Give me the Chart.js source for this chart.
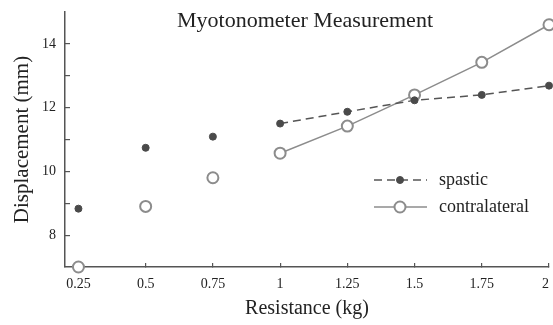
<!DOCTYPE html>
<html>
<head>
<meta charset="utf-8">
<title>Myotonometer Measurement</title>
<script src="https://cdn.jsdelivr.net/npm/chart.js@4.4.1/dist/chart.umd.min.js"></script>
<style>
  body { margin: 0; background: #fff; }
  #wrap { width: 553px; height: 325px; }
</style>
</head>
<body>
<div id="wrap"><canvas id="myoChart" width="553" height="325"></canvas></div>
<script>
// resistance (kg) on the x axis
const resistance = [0.25, 0.5, 0.75, 1, 1.25, 1.5, 1.75, 2];
// displacement (mm)
const spastic = [8.83, 10.74, 11.09, 11.5, 11.87, 12.23, 12.4, 12.69];
const contralateral = [7.0, 8.9, 9.8, 10.57, 11.42, 12.4, 13.42, 14.6];

const xTicks = [0.25, 0.5, 0.75, 1, 1.25, 1.5, 1.75, 2];
const yTicks = [8, 9, 10, 11, 12, 13, 14];
const yLabels = [8, 10, 12, 14];

const serif = "'Liberation Serif', 'Times New Roman', serif";
const axisColor = '#555';

// lines are only drawn from 1 kg upward
const hideEarly = ctx => (ctx.p0.parsed.x < 1 ? 'transparent' : undefined);

// title and legend sit inside the plot area, so draw them here
const overlayPlugin = {
  id: 'overlay',
  afterDraw(chart) {
    const ctx = chart.ctx;
    ctx.save();
    ctx.fillStyle = '#222';
    ctx.font = '22px ' + serif;
    ctx.textAlign = 'center';
    ctx.textBaseline = 'alphabetic';
    ctx.fillText('Myotonometer Measurement', 305, 27);

    const rows = [180, 207];
    chart.data.datasets.forEach((ds, i) => {
      const y = rows[i];
      ctx.strokeStyle = ds.borderColor;
      ctx.lineWidth = ds.borderWidth;
      ctx.setLineDash(ds.borderDash || []);
      ctx.beginPath();
      ctx.moveTo(374, y);
      ctx.lineTo(427, y);
      ctx.stroke();
      ctx.setLineDash([]);
      ctx.beginPath();
      ctx.arc(400, y, ds.pointRadius, 0, Math.PI * 2);
      ctx.fillStyle = ds.pointBackgroundColor;
      ctx.fill();
      ctx.lineWidth = ds.pointBorderWidth;
      ctx.strokeStyle = ds.pointBorderColor;
      ctx.stroke();
      ctx.fillStyle = '#222';
      ctx.font = '18px ' + serif;
      ctx.textAlign = 'left';
      ctx.textBaseline = 'middle';
      ctx.fillText(ds.label, 439, y);
    });
    ctx.restore();
  }
};

const config = {
  type: 'line',
  data: {
    datasets: [
      {
        label: 'spastic',
        data: resistance.map((x, i) => ({ x: x, y: spastic[i] })),
        borderColor: '#555',
        borderWidth: 1.5,
        borderDash: [8, 5],
        pointRadius: 3.5,
        pointBackgroundColor: '#4a4a4a',
        pointBorderColor: '#4a4a4a',
        pointBorderWidth: 1,
        segment: { borderColor: hideEarly },
        clip: false,
      },
      {
        label: 'contralateral',
        data: resistance.map((x, i) => ({ x: x, y: contralateral[i] })),
        borderColor: '#8c8c8c',
        borderWidth: 1.5,
        pointRadius: 5.5,
        pointBackgroundColor: '#fff',
        pointBorderColor: '#8c8c8c',
        pointBorderWidth: 2,
        segment: { borderColor: hideEarly },
        clip: false,
      },
    ],
  },
  options: {
    responsive: false,
    animation: false,
    layout: { autoPadding: false, padding: { left: 0, top: 12, right: 0, bottom: 4 } },
    plugins: {
      legend: { display: false },
      title: { display: false },
      tooltip: { enabled: false },
    },
    scales: {
      x: {
        type: 'linear',
        min: 0.2,
        max: 2,
        afterBuildTicks: s => { s.ticks = xTicks.map(v => ({ value: v })); },
        afterFit: s => {
          s.height = 54;
          s.paddingLeft = 0;
          s.paddingRight = 4;
        },
        border: { color: axisColor, width: 1.5 },
        grid: { drawOnChartArea: false, tickLength: -4, color: axisColor, lineWidth: 1.2 },
        ticks: {
          padding: 13,
          color: '#222',
          font: { family: serif, size: 14 },
          maxRotation: 0,
          // last label is pulled in from the edge
          callback: v => (v === 2 ? '2  ' : String(v)),
        },
        title: {
          display: true,
          text: 'Resistance (kg)',
          color: '#222',
          font: { family: serif, size: 20 },
          padding: { top: 0, bottom: 0 },
        },
      },
      y: {
        min: 7,
        max: 15,
        afterBuildTicks: s => { s.ticks = yTicks.map(v => ({ value: v })); },
        afterFit: s => {
          s.width = 65;
          s.paddingTop = 0;
          s.paddingBottom = 0;
        },
        border: { color: axisColor, width: 1.5 },
        grid: { drawOnChartArea: false, tickLength: -5, color: axisColor, lineWidth: 1.2 },
        ticks: {
          padding: 14,
          color: '#222',
          font: { family: serif, size: 14 },
          callback: v => (yLabels.includes(v) ? String(v) : ''),
        },
        title: {
          display: true,
          text: 'Displacement (mm)',
          color: '#222',
          font: { family: serif, size: 21 },
          padding: { top: 10, bottom: 0 },
        },
      },
    },
  },
  plugins: [overlayPlugin],
};

const ctx = document.getElementById('myoChart').getContext('2d');
new Chart(ctx, config);
</script>
</body>
</html>
